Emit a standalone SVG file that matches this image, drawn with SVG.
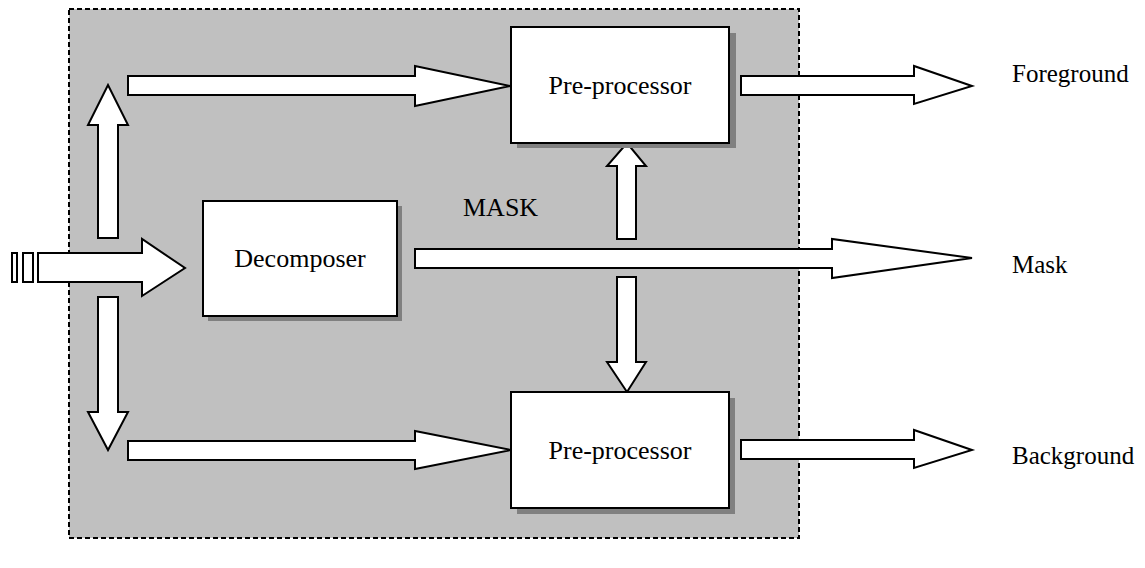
<svg xmlns="http://www.w3.org/2000/svg" width="1145" height="568" viewBox="0 0 1145 568">
<style>
.arr{fill:#fff;stroke:#000;stroke-width:2;stroke-linejoin:miter}
.box{fill:#fff;stroke:#000;stroke-width:2}
.shadow{fill:#808080}
.t{font-family:"Liberation Serif","Times New Roman",serif;font-size:26px;fill:#000}
.lbl{font-family:"Liberation Serif","Times New Roman",serif;font-size:25px;fill:#000}
</style>
<rect width="1145" height="568" fill="#fff"/>
<g id="frame">
<rect x="69" y="9" width="730" height="529" fill="#c0c0c0" stroke="#000" stroke-width="2" stroke-dasharray="5 3"/>
</g>
<g id="connectors">
<rect class="arr" x="12" y="253" width="5" height="29"/>
<rect class="arr" x="23" y="253" width="10" height="29"/>
<polygon class="arr" points="38,253 142,253 142,239 185,268 142,296 142,282 38,282"/>
<polygon class="arr" points="98,238 98,125 88,125 108,85 128,125 118,125 118,238"/>
<polygon class="arr" points="98,297 98,412 88,412 108,450 128,412 118,412 118,297"/>
<polygon class="arr" points="128,76 415,76 415,66 510,86 415,106 415,95 128,95"/>
<polygon class="arr" points="128,441 415,441 415,431 511,450 415,469 415,460 128,460"/>
<polygon class="arr" points="741,76 914,76 914,66 972,86 914,104 914,95 741,95"/>
<polygon class="arr" points="741,440 914,440 914,430 972,450 914,468 914,459 741,459"/>
<polygon class="arr" points="415,249 832,249 832,239 972,258 832,278 832,268 415,268"/>
<polygon class="arr" points="617,239 617,166 607,166 627,143 646,166 636,166 636,239"/>
<polygon class="arr" points="617,277 617,362 607,362 627,392 646,362 636,362 636,277"/>
</g>
<g id="decomposer">
<rect class="shadow" x="208" y="206" width="194" height="115"/>
<rect class="box" x="203" y="201" width="194" height="115"/>
<text class="t" x="300" y="267" text-anchor="middle">Decomposer</text>
</g>
<g id="preproc-top">
<rect class="shadow" x="517" y="33" width="219" height="115"/>
<rect class="box" x="511" y="27" width="218" height="116"/>
<text class="t" x="620" y="94" text-anchor="middle">Pre-processor</text>
</g>
<g id="preproc-bottom">
<rect class="shadow" x="517" y="398" width="218" height="116"/>
<rect class="box" x="511" y="392" width="218" height="116"/>
<text class="t" x="620" y="459" text-anchor="middle">Pre-processor</text>
</g>
<g id="labels">
<text class="t" x="463" y="216">MASK</text>
<text class="lbl" x="1012" y="82">Foreground</text>
<text class="lbl" x="1012" y="273">Mask</text>
<text class="lbl" x="1012" y="464">Background</text>
</g>
</svg>
